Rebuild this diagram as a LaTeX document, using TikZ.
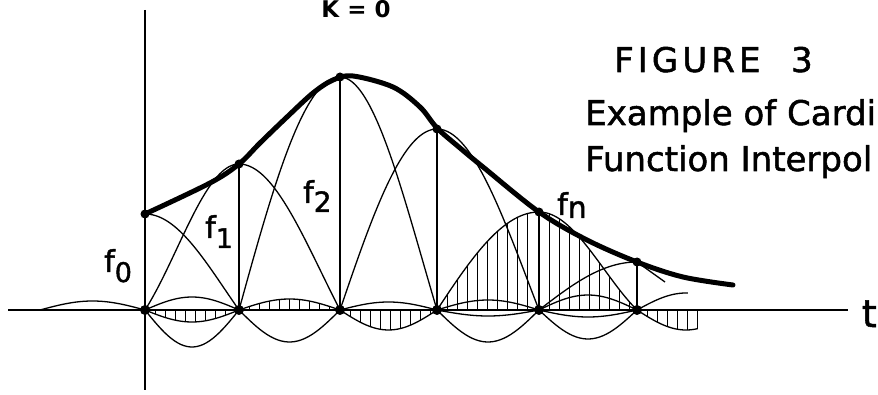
\documentclass[tikz,border=0pt]{standalone}
\usepackage{fontspec}
\setmainfont{DejaVu Sans}
\newcommand\halflobe[5][thin line]{%
  \draw[#1] plot[domain=0.005:1, samples=40] ({#2+\x*(#3-#2)},{310-(310-#4)*lobe(\x,#5)});}
\newcommand\sidearc[6][thin line]{%
  \draw[#1] plot[domain=#5:#6, samples=30] ({#2+\x*(#3-#2)},{310-#4*sin(180*\x)});}
\begin{document}
\begin{tikzpicture}[x=1pt,y=-1pt,
  thin line/.style={line width=1.3pt},
  hatchline/.style={line width=1pt},
  envelope/.style={line width=5pt, line cap=round, line join=round},
  axisline/.style={line width=1.5pt},
  sdot/.style={circle, fill=black, inner sep=0pt, minimum size=10pt},
  pdot/.style={circle, fill=black, inner sep=0pt, minimum size=9pt},
  lbl/.style={font=\fontsize{30}{30}\selectfont\addfontfeature{FakeBold=1.5}, inner sep=0pt, anchor=base west},
  txt/.style={font=\fontsize{34}{34}\selectfont\addfontfeature{FakeBold=1.5}, inner sep=0pt, anchor=base west},
  declare function={lobe(\u,\w)=\w*cos(90*\u)+(1-\w)*sin(180*\u)/(pi*\u);}
]
\useasboundingbox (0,0) rectangle (878,395);
\clip (0,0) rectangle (878,395);
\fill[white] (0,0) rectangle (878,395);

% sample points on the axis and peaks
\coordinate (a0) at (145,310); \coordinate (p0) at (145,214);
\coordinate (a1) at (239,310); \coordinate (p1) at (239,164);
\coordinate (a2) at (340,310); \coordinate (p2) at (340,77);
\coordinate (a3) at (437,310); \coordinate (p3) at (437,129);
\coordinate (a4) at (539,310); \coordinate (p4) at (539,212);
\coordinate (a5) at (637,310); \coordinate (p5) at (637,262);
\coordinate (axL) at (8,310); \coordinate (axR) at (848,310);
\coordinate (axT) at (145,10); \coordinate (axB) at (145,390);
\coordinate (stub) at (665,282);

% axes
\draw[axisline] (axL) -- (axR);
\draw[axisline] (axT) -- (axB);

% hatching of the n-th cardinal function
\foreach \hx in {155,165,...,225} \draw[hatchline] (\hx,310) -- (\hx,{310+12*sin(180*(\hx-145)/94)});
\foreach \hx in {249,259,...,329} \draw[hatchline] (\hx,310) -- (\hx,{310-11*sin(180*(\hx-239)/101)});
\foreach \hx in {350,360,...,430} \draw[hatchline] (\hx,310) -- (\hx,{310+20*sin(180*(\hx-340)/97)});
\foreach \hx in {447,457,...,529} \draw[hatchline] (\hx,310) -- (\hx,{310-98*lobe((539-\hx)/102,1)});
\foreach \hx in {549,559,...,629} \draw[hatchline] (\hx,310) -- (\hx,{310-98*lobe((\hx-539)/98,0)});
\foreach \hx in {647,657,...,697} \draw[hatchline] (\hx,310) -- (\hx,{310+20*sin(180*(\hx-637)/98)});

% side lobes
\sidearc{40}{145}{9}{0}{1}
\sidearc{145}{239}{13}{0}{1}
\sidearc{145}{239}{-37}{0}{1}
\sidearc{145}{239}{-12}{0}{1}
\sidearc{239}{340}{11}{0}{1}
\sidearc{239}{340}{-32}{0}{1}
\sidearc{340}{437}{8}{0}{1}
\sidearc{340}{437}{-20}{0}{1}
\sidearc{437}{539}{10}{0}{1}
\sidearc{437}{539}{-6}{0}{1}
\sidearc{437}{539}{-32}{0}{1}
\sidearc{539}{637}{15}{0}{1}
\sidearc{539}{637}{-7}{0}{1}
\sidearc{539}{637}{-29}{0}{1}
\sidearc{637}{735}{17}{0}{0.52}
\sidearc{637}{735}{-20}{0}{0.62}

% main lobes (peak x, zero x, peak y, shape)
\halflobe{145}{239}{214}{0.7}
\halflobe{239}{145}{164}{0}
\halflobe{239}{340}{164}{0.6}
\halflobe{340}{239}{77}{1}
\halflobe{340}{437}{77}{0.7}
\halflobe{437}{340}{129}{1}
\halflobe{437}{539}{129}{0.8}
\halflobe{539}{437}{212}{1}
\halflobe{539}{637}{212}{0}
\halflobe{637}{539}{262}{1}
\draw[thin line] (p5) -- (stub);

% sample verticals
\foreach \k in {1,...,5} \draw[thin line] (p\k) -- (a\k);

% envelope
\draw[envelope] plot[smooth, tension=0.55] coordinates {(145,214) (210,183) (239,164) (260,143) (287,117) (313,93) (333,80) (353,76) (393,87) (420,107) (437,128) (460,148) (483,167) (539,212) (587,240) (637,262) (683,277) (733,285)};

% dots
\foreach \k in {0,...,5} {
  \node[sdot] (s\k) at (a\k) {};
  \node[pdot] (q\k) at (p\k) {};
}

% labels
\node[lbl] (l0) at (104,272) {f\raisebox{-10pt}{\fontsize{27}{27}\selectfont 0}};
\node[lbl] (l1) at (205,238) {f\raisebox{-10pt}{\fontsize{27}{27}\selectfont 1}};
\node[lbl] (l2) at (303,203) {f\raisebox{-9pt}{\fontsize{28}{28}\selectfont 2}};
\node[lbl] (ln) at (557,215) {f\raisebox{-3pt}{n}};
\node[font=\fontsize{38}{38}\selectfont\addfontfeature{FakeBold=1.5}, inner sep=0pt, anchor=base east] (tl) at (877,327) {t};

\node[font=\bfseries\fontsize{23}{23}\selectfont, inner sep=0pt, anchor=base] (k0) at (356,18) {K = 0};
\node[txt] (fig) at (614,72) {\addfontfeature{LetterSpace=12}FIGURE\hspace{0.9em}3};
\node[txt] (ex) at (585,125) {Example of Cardi};
\node[txt] (fu) at (585,171) {Function Interpol};
\end{tikzpicture}
\end{document}
